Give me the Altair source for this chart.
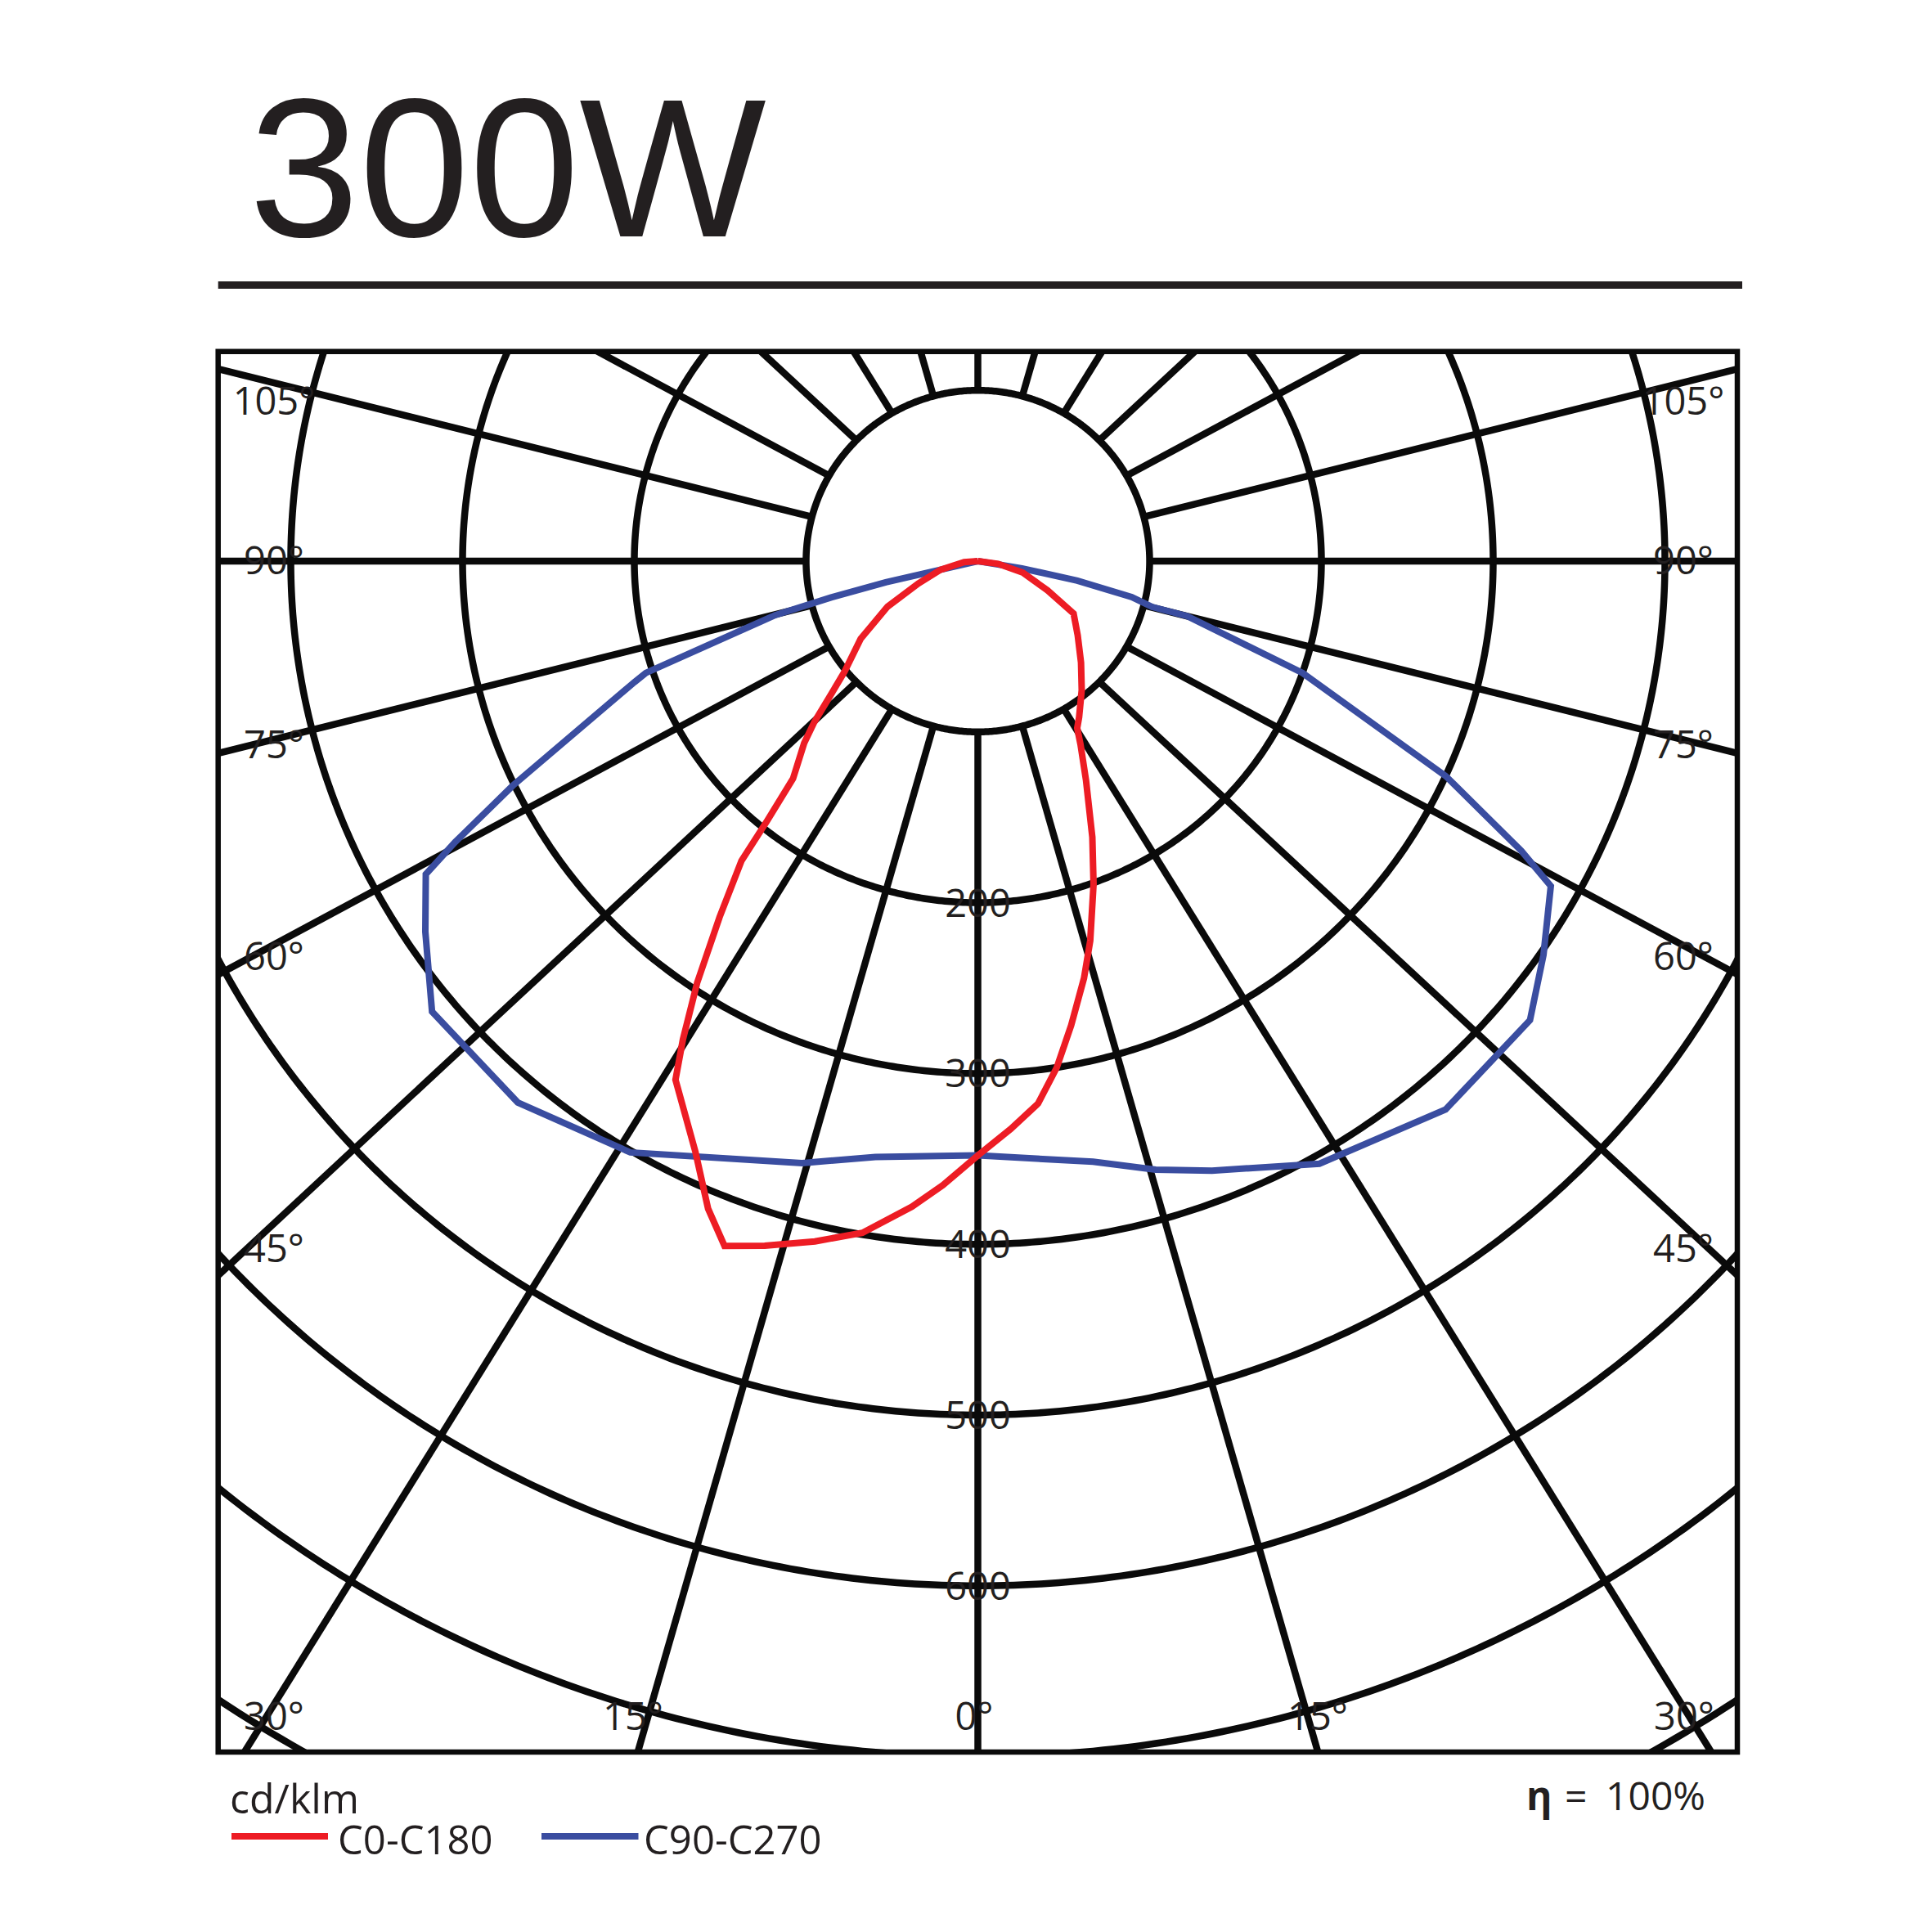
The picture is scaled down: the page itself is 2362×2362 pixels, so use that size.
import math
import altair as alt
import pandas as pd

# ---------------- data ----------------
RADII = [100, 200, 300, 400, 500, 600, 700, 800]          # cd/klm rings
RADIUS_LABELS = [200, 300, 400, 500, 600]
GRID_ANGLES = list(range(0, 360, 15))                        # degrees from nadir
SIDE_ANGLE_LABELS = ["105°", "90°", "75°", "60°", "45°"]
BOTTOM_ANGLE_LABELS = ["30°", "15°", "0°", "15°", "30°"]

# C0-C180 (red): angle from nadir (deg, + = C0 side, - = C180 side), intensity cd/klm
RED_ANGLES = [90, 82.3, 75.6, 67.1, 61.2, 53.2, 45.3, 38.7, 32.8, 30.6,
              29.1, 26.1, 22.4, 19.6, 16.4, 14.2, 11.3, 8.8, 6.3, 3.3,
              0, -3.2, -5.8, -9.7, -13.4, -17.2, -20.2, -22.5, -25.4, -30.1, -31.5,
              -33.5, -35.8, -38.1, -38.9, -40.2, -43.5, -45.3, -47.5, -50.2, -56.3,
              -63.1, -69.3, -76.8, -86, -90]
RED_VALUES = [0, 11.9, 27.0, 44.0, 63.6, 72.6, 84.5, 96.7, 108.8, 113.6,
              122.9, 143.2, 174.9, 200.8, 231.7, 251.9, 277.2, 300.1, 319.5, 333.0,
              348.0, 366.0, 380.0, 399.0, 409.5, 419.6, 427.2, 410.4, 383.2, 351.0, 328.7,
              296.1, 257.1, 223.0, 195.3, 166.7, 146.9, 134.0, 116.4, 101.0, 82.0,
              59.0, 37.0, 22.4, 8.0, 0]

# C90-C270 (blue)
BLUE_ANGLES = [-90, -77, -77, -76, -75, -71.3, -70.5, -64.1, -61.6, -60.3,
               -56.0, -50.3, -40.2, -30.3, -16.2, -9.7, 0, 10.8, 16.2, 20.9,
               29.4, 40.3, 50.1, 55.0, 60.3, 61.8, 65.2, 70.9, 75.2, 75.2,
               76.8, 78.8, 80.6, 90]
BLUE_VALUES = [0, 22, 55, 88, 122, 204, 212, 301, 346, 370,
               388, 413, 415, 401, 367, 354, 348, 358, 371, 382,
               405, 421, 419, 402, 384, 359, 300, 200, 126, 105,
               92, 59, 26, 0]

TITLE = "300W"
UNIT = "cd/klm"
SERIES = ["C0-C180", "C90-C270"]
ETA = "η"
EQUALS = "="
EFFICIENCY = "100%"

# ---------------- layout / style ----------------
INK = "#0a0a0a"
TEXT = "#231f20"
RED = "#ed1c24"
BLUE = "#3a4da0"
LABEL_FONT = "Open Sans"

FRAME_L, FRAME_T, FRAME_R, FRAME_B = 266.7, 429.7, 2124.0, 2142.0
CX, CY = 1195.5, 686.0          # pole of the diagram (page px)
SX, SY = 2.10, 2.088            # px per cd/klm
TILT = 0.93                     # spokes of the original lean slightly
W = FRAME_R - FRAME_L
H = FRAME_B - FRAME_T


def to_dx(px):
    return (px - CX) / SX


def to_dy(py):
    return (CY - py) / SY


xscale = alt.Scale(domain=[to_dx(FRAME_L), to_dx(FRAME_R)], nice=False, zero=False)
yscale = alt.Scale(domain=[to_dy(FRAME_B), to_dy(FRAME_T)], nice=False, zero=False)
X = alt.X("x:Q", scale=xscale, axis=None)
Y = alt.Y("y:Q", scale=yscale, axis=None)

# rings
rows = []
for r in RADII:
    for i in range(721):
        a = math.radians(i * 0.5)
        rows.append({"r": r, "i": i, "x": r * math.sin(a), "y": r * math.cos(a)})
rings = alt.Chart(pd.DataFrame(rows)).mark_line(
    clip=True, color=INK, strokeWidth=8.5
).encode(x=X, y=Y, detail="r:N", order="i:Q")

# spokes (start on the 100 ring, run out to the frame)
srows = []
for g in GRID_ANGLES:
    a = math.radians(g)
    x1, y1 = RADII[0] * math.sin(a), -RADII[0] * math.cos(a)
    srows.append({"g": g, "x": x1, "y": y1,
                  "x2": x1 + 2600 * math.sin(a) / SX,
                  "y2": y1 - 2600 * TILT * math.cos(a) / SY})
spokes = alt.Chart(pd.DataFrame(srows)).mark_rule(
    clip=True, color=INK, strokeWidth=8.5
).encode(x=X, y=Y, x2="x2:Q", y2="y2:Q")


def curve_df(angles, values):
    return pd.DataFrame([
        {"i": i, "x": v * math.sin(math.radians(g)), "y": -v * math.cos(math.radians(g))}
        for i, (g, v) in enumerate(zip(angles, values))
    ])


blue = alt.Chart(curve_df(BLUE_ANGLES, BLUE_VALUES)).mark_line(
    clip=True, color=BLUE, strokeWidth=8, strokeJoin="miter"
).encode(x=X, y=Y, order="i:Q")
red = alt.Chart(curve_df(RED_ANGLES, RED_VALUES)).mark_line(
    clip=True, color=RED, strokeWidth=8, strokeJoin="miter"
).encode(x=X, y=Y, order="i:Q")

# ring value labels
rl = pd.DataFrame({"t": [str(v) for v in RADIUS_LABELS],
                   "x": [0.0] * len(RADIUS_LABELS),
                   "y": [-float(v) for v in RADIUS_LABELS]})
ring_labels = alt.Chart(rl).mark_text(
    font=LABEL_FONT, fontSize=47, color=TEXT, align="center", baseline="alphabetic", dy=17
).encode(x=X, y=Y, text="t:N")

# angle labels (page-pixel placement converted to data units)
SIDE_BASELINES = [507, 702, 927, 1186, 1543]
alrows = []
for t, b in zip(SIDE_ANGLE_LABELS, SIDE_BASELINES):
    alrows.append({"t": t, "x": to_dx(335), "y": to_dy(b)})
    alrows.append({"t": t, "x": to_dx(2058), "y": to_dy(b)})
for t, px in zip(BOTTOM_ANGLE_LABELS, [335, 774, 1191, 1611, 2059]):
    alrows.append({"t": t, "x": to_dx(px), "y": to_dy(2115)})
angle_labels = alt.Chart(pd.DataFrame(alrows)).mark_text(
    font=LABEL_FONT, fontSize=47, color=TEXT, align="center", baseline="alphabetic"
).encode(x=X, y=Y, text="t:N")


def page_text(txt, px, py, size, font=LABEL_FONT, weight="normal", align="left"):
    return alt.Chart(pd.DataFrame({"t": [txt]})).mark_text(
        font=font, fontSize=size, fontWeight=weight, color=TEXT,
        align=align, baseline="alphabetic"
    ).encode(text="t:N", x=alt.value(px - FRAME_L), y=alt.value(py - FRAME_T))


def page_rule(px1, px2, py, color, width):
    return alt.Chart(pd.DataFrame({"t": [0]})).mark_rule(
        color=color, strokeWidth=width
    ).encode(x=alt.value(px1 - FRAME_L), x2=alt.value(px2 - FRAME_L),
             y=alt.value(py - FRAME_T))


title = page_text(TITLE, 304.6, 289, 242, font="Liberation Sans")
title_rule = page_rule(FRAME_L, 2130, 348.5, TEXT, 9)
unit = page_text(UNIT, 281, 2217, 50)
leg_red = page_rule(283, 401, 2245, RED, 8)
leg_red_t = page_text(SERIES[0], 413, 2267, 49)
leg_blue = page_rule(662, 780.5, 2245, BLUE, 8)
leg_blue_t = page_text(SERIES[1], 787, 2267, 49)
eta = page_text(ETA, 1866, 2213, 48, weight="bold")
eq = page_text(EQUALS, 1913, 2213, 48)
eff = page_text(EFFICIENCY, 1963, 2213, 48)

chart = alt.layer(
    rings, spokes, ring_labels, angle_labels, blue, red,
    title, title_rule, unit, leg_red, leg_red_t, leg_blue, leg_blue_t, eta, eq, eff
).properties(
    width=W, height=H,
    padding={"left": FRAME_L - 8, "top": FRAME_T - 8,
             "right": 2346 - (FRAME_R - 8), "bottom": 2346 - (FRAME_B - 8)},
    autosize=alt.AutoSizeParams(type="none"),
    background="white",
).configure_view(stroke=INK, strokeWidth=6.5)

chart.save("out.html", embed_options={"renderer": "svg", "actions": False})
